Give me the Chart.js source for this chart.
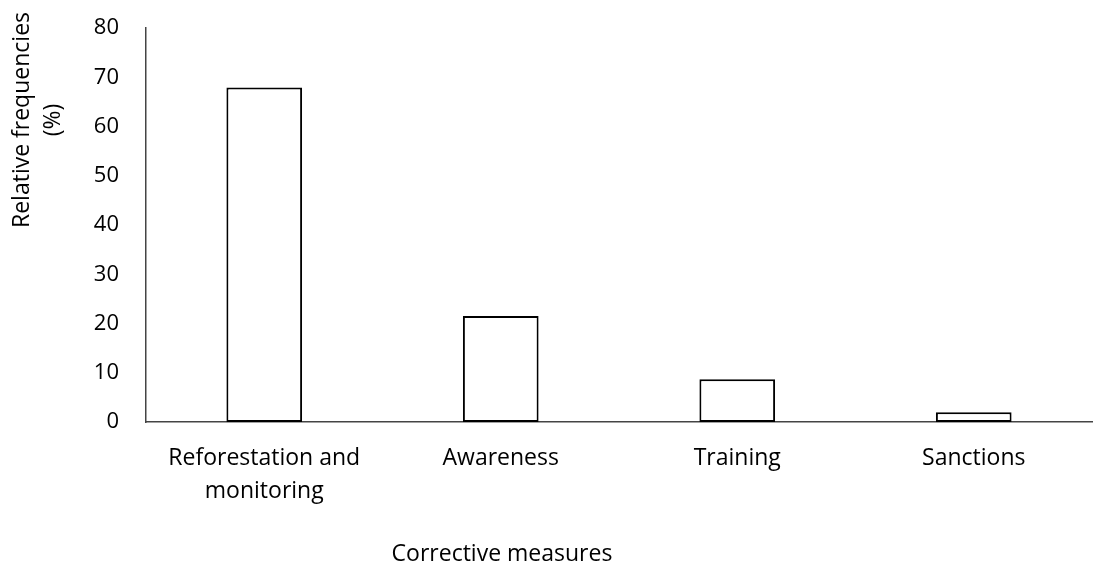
<!DOCTYPE html>
<html>
<head>
<meta charset="utf-8">
<script src="https://cdn.jsdelivr.net/npm/chart.js@4"></script>
<style>
  html, body { margin: 0; padding: 0; background: #fff; }
  #wrap { width: 1104px; height: 568px; position: relative; }
</style>
</head>
<body>
<div id="wrap"><canvas id="chartMeasures"></canvas></div>
<script>
// Data
const categories = [['Reforestation and', 'monitoring'], 'Awareness', 'Training', 'Sanctions'];
const frequencies = [67.9, 21.5, 8.7, 2.0];
const yTicks = [0, 10, 20, 30, 40, 50, 60, 70, 80];

const fontFamily = "'Open Sans', 'Noto Sans', sans-serif";

// Axis titles drawn at their spots in the original
const axisTitles = {
    id: 'axisTitles',
    afterDraw(chart) {
        const c = chart.ctx;
        c.save();
        c.fillStyle = '#000';
        c.font = '23px ' + fontFamily;
        c.textAlign = 'center';
        c.textBaseline = 'middle';
        c.fillText('Corrective measures', 502, 554);
        c.translate(22, 120);
        c.rotate(-Math.PI / 2);
        c.fillText('Relative frequencies', 0, 0);
        c.fillText('(%)', 0, 31);
        c.restore();
    }
};

const ctx = document.getElementById('chartMeasures').getContext('2d');

new Chart(ctx, {
    type: 'bar',
    data: {
        labels: categories,
        datasets: [{
            data: frequencies,
            backgroundColor: '#fff',
            borderColor: '#000',
            borderWidth: 2,
            borderSkipped: false,
            categoryPercentage: 1,
            barPercentage: 0.32
        }]
    },
    options: {
        responsive: true,
        maintainAspectRatio: false,
        animation: false,
        layout: { padding: { top: 28, right: 12, left: 0, bottom: 0 } },
        plugins: {
            legend: { display: false },
            tooltip: { enabled: false }
        },
        scales: {
            x: {
                grid: { display: false, drawTicks: false },
                border: { display: true, color: '#444', width: 1.5 },
                ticks: {
                    color: '#000',
                    font: { family: fontFamily, size: 23, lineHeight: 1.42 },
                    padding: 20,
                    maxRotation: 0
                },
                afterFit(scale) { scale.height = 146; }
            },
            y: {
                min: 0,
                max: 80,
                grid: { display: false, drawTicks: false },
                border: { display: true, color: '#444', width: 1.5 },
                afterBuildTicks(scale) { scale.ticks = yTicks.map(v => ({ value: v })); },
                ticks: {
                    color: '#000',
                    font: { family: fontFamily, size: 22 },
                    padding: 27
                },
                afterFit(scale) {
                    scale.width = 146;
                    scale.paddingTop = 0;
                    scale.paddingBottom = 0;
                }
            }
        }
    },
    plugins: [axisTitles]
});
</script>
</body>
</html>
